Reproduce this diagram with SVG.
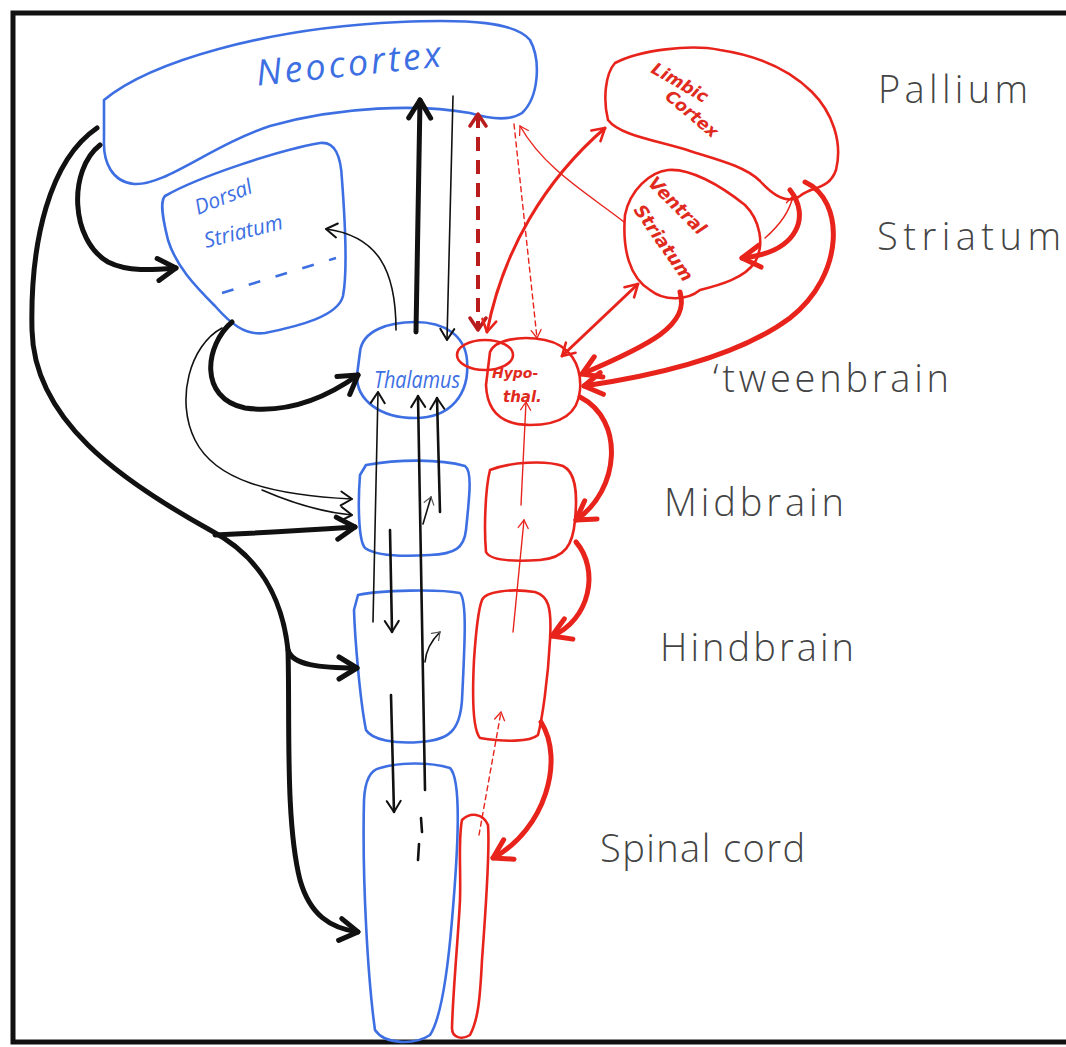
<svg xmlns="http://www.w3.org/2000/svg" width="1066" height="1047" viewBox="0 0 1066 1047">
<style>
.bl{fill:none;stroke:#3d6fe3;stroke-width:2.6;stroke-linejoin:round}
.rd{fill:none;stroke:#e8231b;stroke-width:2.6;stroke-linejoin:round}
.lab{font-family:"Open Sans","DejaVu Sans",sans-serif;font-weight:300;fill:#444;font-size:38px}
.bt{font-family:"Open Sans","DejaVu Sans",sans-serif;font-style:italic;fill:#3d6fe3}
.rt{font-family:"DejaVu Sans","Liberation Sans",sans-serif;font-style:italic;fill:#e02a1e;font-weight:bold}
.k1{fill:none;stroke:#111;stroke-width:1.6;stroke-linecap:round}
.k2{fill:none;stroke:#111;stroke-width:2.6;stroke-linecap:round}
.k3{fill:none;stroke:#111;stroke-width:5;stroke-linecap:round}
.r1{fill:none;stroke:#e8231b;stroke-width:1.4;stroke-linecap:round}
.r2{fill:none;stroke:#e8231b;stroke-width:3;stroke-linecap:round}
.r3{fill:none;stroke:#e8231b;stroke-width:5;stroke-linecap:round}
</style>
<defs>
<marker id="kL" viewBox="-24 -14 28 28" markerWidth="28" markerHeight="28" refX="0" refY="0" orient="auto-start-reverse" markerUnits="userSpaceOnUse"><path d="M-18,-11 L0,0 L-18,11" fill="none" stroke="#111" stroke-width="5" stroke-linecap="round" stroke-linejoin="round"/></marker>
<marker id="kS" viewBox="-16 -10 20 20" markerWidth="20" markerHeight="20" refX="0" refY="0" orient="auto-start-reverse" markerUnits="userSpaceOnUse"><path d="M-11,-7 L0,0 L-11,7" fill="none" stroke="#111" stroke-width="2" stroke-linecap="round" stroke-linejoin="round"/></marker>
<marker id="kT" viewBox="-12 -8 16 16" markerWidth="16" markerHeight="16" refX="0" refY="0" orient="auto" markerUnits="userSpaceOnUse"><path d="M-7,-5 L0,0 L-7,5" fill="none" stroke="#555" stroke-width="1.2" stroke-linecap="round"/></marker>
<marker id="rL" viewBox="-24 -14 28 28" markerWidth="28" markerHeight="28" refX="0" refY="0" orient="auto-start-reverse" markerUnits="userSpaceOnUse"><path d="M-18,-11 L0,0 L-18,11" fill="none" stroke="#e8231b" stroke-width="5" stroke-linecap="round" stroke-linejoin="round"/></marker>
<marker id="rS" viewBox="-16 -10 20 20" markerWidth="20" markerHeight="20" refX="0" refY="0" orient="auto-start-reverse" markerUnits="userSpaceOnUse"><path d="M-12,-7 L0,0 L-12,7" fill="none" stroke="#e8231b" stroke-width="2.6" stroke-linecap="round" stroke-linejoin="round"/></marker>
<marker id="rT" viewBox="-12 -8 16 16" markerWidth="16" markerHeight="16" refX="0" refY="0" orient="auto" markerUnits="userSpaceOnUse"><path d="M-8,-5 L0,0 L-8,5" fill="none" stroke="#e8231b" stroke-width="1.3" stroke-linecap="round"/></marker>
<marker id="dR" viewBox="-16 -10 20 20" markerWidth="20" markerHeight="20" refX="0" refY="0" orient="auto-start-reverse" markerUnits="userSpaceOnUse"><path d="M-12,-8 L0,0 L-12,8" fill="none" stroke="#b81c1c" stroke-width="3.5" stroke-linecap="round" stroke-linejoin="round"/></marker>
</defs>
<rect x="0" y="0" width="1066" height="1047" fill="#fff"/>
<rect x="13" y="13" width="1070" height="1029" fill="none" stroke="#111" stroke-width="5"/>

<g id="labels">
<text class="lab" x="878" y="103" font-size="40" textLength="150" lengthAdjust="spacing">Pallium</text>
<text class="lab" x="877" y="250" font-size="40" textLength="184" lengthAdjust="spacing">Striatum</text>
<text class="lab" x="713" y="392" textLength="236" lengthAdjust="spacing">‘tweenbrain</text>
<text class="lab" x="664" y="516" font-size="34" textLength="180" lengthAdjust="spacing">Midbrain</text>
<text class="lab" x="660" y="661" font-size="34" textLength="194" lengthAdjust="spacing">Hindbrain</text>
<text class="lab" x="600" y="862" font-size="34" textLength="205" lengthAdjust="spacing">Spinal cord</text>
</g>

<g id="neocortex">
<path class="bl" d="M104 100 C150 62 265 28 400 22 C470 19 515 22 530 40 C541 60 539 97 522 113 C510 121 490 119 470 113 C420 104 340 106 270 126 C210 146 165 186 134 184 C112 182 103 162 104 140 Z"/>
<text class="bt" x="255" y="76" font-size="36" letter-spacing="3" transform="rotate(-6 350 56)">Neocortex</text>
</g>

<g id="dorsal-striatum">
<path class="bl" d="M165 196 C200 176 280 150 320 143 C335 141 341 156 342 180 C345 220 348 270 343 296 C338 316 300 326 265 333 C245 336 230 323 215 306 C195 286 176 266 168 240 C162 216 160 201 165 196 Z"/>
<text class="bt" x="198" y="215" font-size="21" transform="rotate(-22 198 215)">Dorsal</text>
<text class="bt" x="206" y="248" font-size="21" transform="rotate(-14 206 248)">Striatum</text>
<path class="bl" d="M222 293 L336 258" stroke-dasharray="12 16" stroke-width="2"/>
</g>

<g id="thalamus">
<path class="bl" d="M360 352 C362 330 390 322 415 322 C445 322 465 336 467 360 C470 395 450 418 415 418 C380 418 356 400 357 375 Z"/>
<text class="bt" x="374" y="388" font-size="23" textLength="86" lengthAdjust="spacingAndGlyphs">Thalamus</text>
</g>

<g id="midbrain-blue"><path class="bl" d="M366 465 C400 459 440 459 465 466 C472 471 470 492 466 530 C464 548 455 554 430 555 C400 557 375 555 365 548 C358 540 358 500 360 475 Z"/></g>
<g id="hindbrain-blue"><path class="bl" d="M358 595 C380 590 440 589 460 593 C467 601 465 640 462 700 C460 730 450 740 420 742 C395 744 372 740 366 730 C360 700 355 640 354 610 Z"/></g>
<g id="spinal-blue"><path class="bl" d="M380 768 C400 762 430 762 450 768 C462 780 458 850 452 920 C447 980 440 1020 430 1035 C415 1045 385 1045 375 1030 C368 980 362 880 364 800 C365 780 370 770 380 768 Z"/></g>

<g id="limbic-cortex">
<path class="rd" d="M615 63 C640 50 690 44 720 50 C760 56 790 70 812 92 C832 112 843 142 836 170 C829 190 812 186 800 196 C786 206 770 192 760 181 C745 166 715 159 690 151 C660 141 620 136 608 120 C603 100 605 74 615 63 Z"/>
<text class="rt" x="650" y="72" font-size="17" transform="rotate(30 650 72)">Limbic</text>
<text class="rt" x="664" y="98" font-size="17" transform="rotate(40 664 98)">Cortex</text>
</g>

<g id="ventral-striatum">
<path class="rd" d="M625 215 C630 190 650 172 668 170 C690 168 720 185 745 205 C760 220 765 245 755 262 C745 278 720 285 700 290 C688 300 665 302 650 290 C630 278 622 250 625 215 Z"/>
<text class="rt" x="647" y="184" font-size="18" transform="rotate(45 647 184)">Ventral</text>
<text class="rt" x="633" y="210" font-size="18" transform="rotate(55 633 210)">Striatum</text>
</g>

<g id="small-oval"><ellipse class="rd" cx="485" cy="355" rx="28" ry="15"/></g>

<g id="hypothalamus">
<path class="rd" d="M490 352 C495 340 520 335 545 340 C570 345 582 365 580 390 C578 415 560 425 530 425 C500 425 487 410 486 385 Z"/>
<text class="rt" x="492" y="378" font-size="14">Hypo-</text>
<text class="rt" x="503" y="402" font-size="15">thal.</text>
</g>

<g id="midbrain-red"><path class="rd" d="M490 470 C510 462 545 460 563 466 C575 472 578 490 575 520 C573 545 565 558 540 560 C510 562 490 560 486 552 C484 530 485 490 490 470 Z"/></g>
<g id="hindbrain-red"><path class="rd" d="M482 600 C485 592 510 588 535 592 C548 596 552 606 550 640 C548 680 542 720 538 735 C530 742 505 742 480 738 C473 730 472 700 474 660 C476 630 478 610 482 600 Z"/></g>
<g id="spinal-red"><path class="rd" d="M462 820 C470 812 483 813 488 825 C490 850 485 920 482 960 C480 1000 478 1020 470 1035 C462 1040 452 1038 452 1028 C453 990 458 940 460 900 C461 870 458 840 462 820 Z"/></g>

<g id="connectors">
<path class="k3" d="M416 332 L420 100" marker-end="url(#kL)"/>
<path class="k1" d="M453 96 L447 340" marker-end="url(#kS)"/>
<path class="k1" d="M396 330 C396 270 378 236 326 229" marker-end="url(#kS)"/>
<path class="k3" d="M100 145 C68 170 70 240 108 262 C128 272 152 270 176 268" marker-end="url(#kL)"/>
<path class="k3" d="M97 128 C50 160 30 240 32 330 C34 420 120 480 210 530 C258 555 282 595 288 650 C290 720 285 820 300 880 C310 915 330 928 358 932" marker-end="url(#kL)"/>
<path class="k3" d="M288 650 C292 665 320 668 357 668" marker-end="url(#kL)"/>
<path class="k3" d="M215 535 C260 533 310 530 355 527" marker-end="url(#kL)"/>
<path class="k3" d="M232 322 C205 345 198 398 245 408 C290 414 330 395 358 375" stroke-width="6" marker-end="url(#kL)"/>
<path class="k1" d="M222 328 C190 345 175 400 195 440 C215 480 270 495 352 499" marker-end="url(#kS)"/>
<path class="k1" d="M262 490 C292 503 320 512 352 515" marker-end="url(#kS)"/>
<path class="k1" d="M373 622 L378 392" marker-end="url(#kS)"/>
<path class="k2" d="M425 790 L418 396" stroke-width="2" marker-end="url(#kS)"/>
<path class="k2" d="M440 512 L437 398" stroke-width="2" marker-end="url(#kS)"/>
<path class="k1" d="M423 524 L431 497" stroke="#555" stroke-width="1.1" marker-end="url(#kT)"/>
<path class="k1" d="M425 662 C426 650 432 640 440 632" stroke="#555" stroke-width="1.1" marker-end="url(#kT)"/>
<path class="k2" d="M390 530 L392 632" marker-end="url(#kS)"/>
<path class="k2" d="M391 695 L394 812" marker-end="url(#kS)"/>
<path class="k2" d="M421 818 L422 832 M419 844 L418 860" stroke-width="2"/>
<path d="M478 114 L478 330" fill="none" stroke="#b81c1c" stroke-width="4" stroke-dasharray="14 9" marker-start="url(#dR)" marker-end="url(#dR)"/>
<path class="r1" d="M514 124 L537 338" stroke-dasharray="5 4" marker-end="url(#rT)"/>
<path class="r1" d="M624 222 C590 195 545 170 520 126" marker-end="url(#rT)"/>
<path class="r2" d="M605 128 C545 180 503 250 487 332" marker-start="url(#rS)" marker-end="url(#rS)"/>
<path class="r2" d="M562 356 L638 284" marker-start="url(#rS)" marker-end="url(#rS)"/>
<path class="r3" d="M680 292 C690 325 650 345 582 374" marker-end="url(#rL)"/>
<path class="r3" d="M805 182 C845 200 845 275 790 318 C740 355 660 375 584 386" marker-end="url(#rL)"/>
<path class="r3" d="M790 190 C810 215 800 252 742 258" marker-end="url(#rL)"/>
<path class="r1" d="M765 238 C780 225 790 210 793 196" marker-end="url(#rT)"/>
<path class="r3" d="M580 397 C625 420 620 490 576 520" marker-end="url(#rL)"/>
<path class="r3" d="M576 542 C600 570 590 620 552 636" marker-end="url(#rL)"/>
<path class="r3" d="M541 722 C565 760 545 830 493 858" marker-end="url(#rL)"/>
<path class="r1" d="M521 505 L526 402" marker-end="url(#rT)"/>
<path class="r1" d="M513 632 L524 520" marker-end="url(#rT)"/>
<path class="r1" d="M479 835 L501 712" stroke-dasharray="5 4" marker-end="url(#rT)"/>
</g>
</svg>
